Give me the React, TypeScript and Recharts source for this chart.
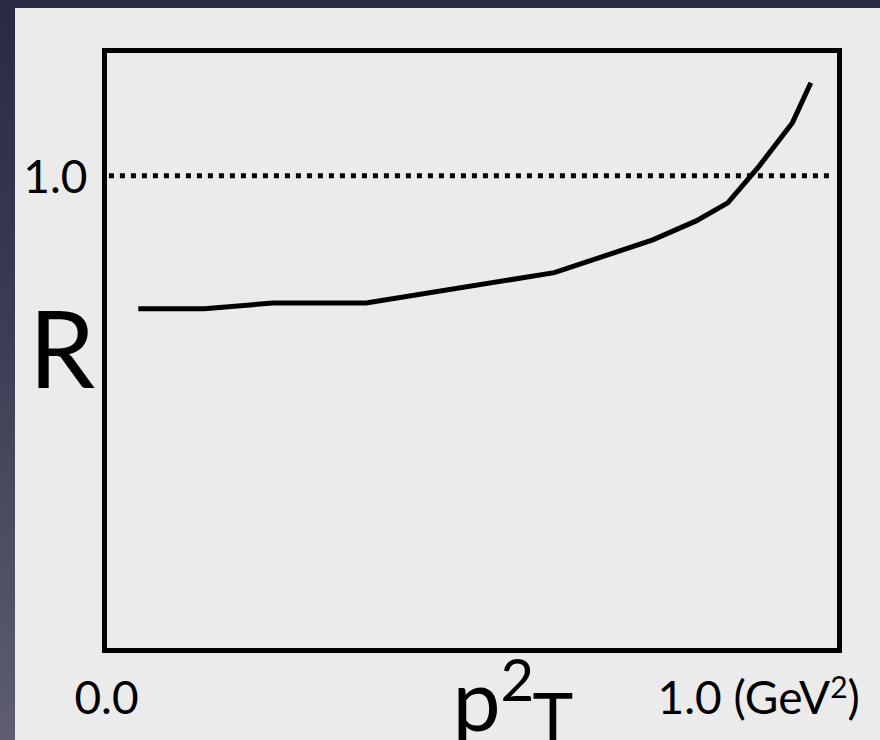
import { LineChart, Line, XAxis, YAxis, ReferenceArea, ReferenceLine } from 'recharts';

// p_T^2 (fraction of the box width) and ratio R
const P2T = [0.046, 0.136, 0.229, 0.356, 0.612, 0.746, 0.805, 0.848, 0.891, 0.936, 0.961];
const R_VALUES = [0.72, 0.72, 0.732, 0.732, 0.796, 0.865, 0.905, 0.943, 1.021, 1.112, 1.196];
const X_TICKS = [0, 1];
const X_TICK_LABELS = ['0.0', '1.0 (GeV'];
const Y_TICKS = [1];
const Y_TICK_LABELS = ['1.0'];
const Y_MAX = 1.264;

const FONT = 'Lato, "Open Sans", sans-serif';

const data = P2T.map((x, i) => ({ x, r: R_VALUES[i] }));

function XTick({ x, y, payload }: any) {
  const idx = X_TICKS.indexOf(payload.value);
  if (idx === 0) {
    return (
      <text x={x + 2} y={y + 63} textAnchor="middle" fontSize={46} fontFamily={FONT} fill="#000">
        {X_TICK_LABELS[0]}
      </text>
    );
  }
  return (
    <text x={x - 182} y={y + 63} textAnchor="start" fontSize={46} fontFamily={FONT} fill="#000">
      {X_TICK_LABELS[1]}
      <tspan fontSize={30} dy={-16}>2</tspan>
      <tspan dy={16}>)</tspan>
    </text>
  );
}

function YTick({ x, y, payload }: any) {
  const idx = Y_TICKS.indexOf(payload.value);
  return (
    <text x={x - 17} y={y + 17} textAnchor="end" fontSize={46} fontFamily={FONT} fill="#000">
      {Y_TICK_LABELS[idx]}
    </text>
  );
}

function XLabel({ viewBox }: any) {
  const { x, y } = viewBox;
  return (
    <g fontFamily={FONT} fill="#000">
      <text x={x + 348} y={y + 80} fontSize={86}>p</text>
      <text x={x + 396} y={y + 50} fontSize={58}>2</text>
      <text x={x + 428} y={y + 92} fontSize={69}>T</text>
    </g>
  );
}

function YLabel({ viewBox }: any) {
  const { x } = viewBox;
  return (
    <text x={x + 62} y={388} textAnchor="middle" fontSize={106} fontFamily={FONT} fill="#000">
      R
    </text>
  );
}

export default function App() {
  return (
    <div
      style={{
        position: 'absolute',
        left: 0,
        top: 0,
        width: 880,
        height: 740,
        overflow: 'hidden',
        background: 'linear-gradient(180deg, #2a2a42 0%, #3c3c55 45%, #5e5e70 100%)',
      }}
    >
      <div style={{ position: 'absolute', left: 15, top: 8, right: 0, bottom: 0, background: '#ebebeb' }} />
      <div style={{ position: 'absolute', left: 0, top: 0 }}>
        <LineChart width={880} height={740} data={data} margin={{ top: 50.5, right: 40.5, bottom: 0, left: 0 }}>
          <XAxis
            dataKey="x"
            type="number"
            domain={[0, 1]}
            ticks={X_TICKS}
            axisLine={false}
            tickLine={false}
            tickSize={0}
            tickMargin={0}
            height={89.5}
            tick={<XTick />}
            label={<XLabel />}
          />
          <YAxis
            type="number"
            domain={[0, Y_MAX]}
            ticks={Y_TICKS}
            axisLine={false}
            tickLine={false}
            tickSize={0}
            tickMargin={0}
            width={104.5}
            tick={<YTick />}
            label={<YLabel />}
          />
          <ReferenceLine
            segment={[
              { x: 0.006, y: 1 },
              { x: 0.986, y: 1 },
            ]}
            stroke="#000"
            strokeWidth={5}
            strokeDasharray="5 6"
            ifOverflow="visible"
          />
          <ReferenceArea
            x1={0}
            x2={1}
            y1={0}
            y2={Y_MAX}
            fill="none"
            stroke="#000"
            strokeWidth={5}
            ifOverflow="visible"
          />
          <Line
            dataKey="r"
            type="linear"
            stroke="#000"
            strokeWidth={5}
            dot={false}
            isAnimationActive={false}
          />
        </LineChart>
      </div>
    </div>
  );
}
